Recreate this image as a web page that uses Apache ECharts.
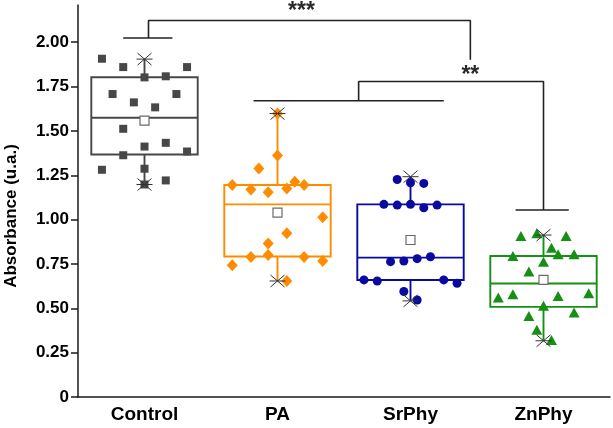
<!DOCTYPE html>
<html>
<head>
<meta charset="utf-8">
<title>Absorbance box plot</title>
<script src="https://cdn.jsdelivr.net/npm/echarts@6/dist/echarts.min.js"></script>
<style>
html, body { margin: 0; padding: 0; background: #fff; }
#main { width: 613px; height: 428px; }
</style>
</head>
<body>
<div id="main"></div>
<script>
const categories = ['Control', 'PA', 'SrPhy', 'ZnPhy'];
const yTicks = [0, 0.25, 0.5, 0.75, 1, 1.25, 1.5, 1.75, 2];

// box statistics
const q1 = [1.367, 0.792, 0.660, 0.508];
const median = [1.574, 1.086, 0.786, 0.640];
const q3 = [1.803, 1.195, 1.086, 0.795];
const minVal = [1.198, 0.654, 0.542, 0.317];
const maxVal = [1.905, 1.598, 1.242, 0.913];
const meanVal = [1.558, 1.039, 0.885, 0.660];

// individual samples, with their horizontal jitter in category units
const controlValues = [1.907, 1.860, 1.802, 1.808, 1.860, 1.708, 1.708, 1.661, 1.633, 1.512, 1.412, 1.433, 1.363, 1.384, 1.281, 1.287, 1.221, 1.198];
const controlJitter = [-0.32, -0.16, 0, 0.16, 0.32, -0.24, 0.24, -0.08, 0.08, -0.16, 0, 0.16, -0.16, 0.32, -0.32, 0, 0.16, 0];
const paValues = [1.598, 1.361, 1.288, 1.195, 1.170, 1.155, 1.176, 1.213, 1.195, 1.014, 0.923, 0.865, 0.789, 0.801, 0.789, 0.767, 0.743, 0.654];
const paJitter = [0, 0, -0.14, -0.34, -0.2, -0.07, 0.07, 0.13, 0.2, 0.34, 0.07, -0.07, -0.2, -0.07, 0.2, 0.34, -0.34, 0.07];
const srValues = [1.226, 1.208, 1.204, 1.086, 1.082, 1.086, 1.067, 1.082, 0.763, 0.767, 0.780, 0.791, 0.660, 0.654, 0.660, 0.641, 0.595, 0.547];
const srJitter = [-0.1, 0, 0.1, -0.2, -0.1, 0, 0.1, 0.2, -0.15, -0.05, 0.05, 0.15, -0.35, -0.25, 0.25, 0.35, -0.05, 0.05];
const znValues = [0.908, 0.923, 0.908, 0.842, 0.795, 0.805, 0.805, 0.763, 0.707, 0.561, 0.579, 0.570, 0.585, 0.514, 0.477, 0.457, 0.379, 0.322];
const znJitter = [-0.17, -0.05, 0.17, 0.06, -0.23, 0.11, 0.23, 0, -0.11, -0.34, -0.23, 0.11, 0.34, 0, 0.23, -0.11, -0.05, 0.06];

// significance brackets (x in category units, y in absorbance)
const bracketLines = [
  [[0.84, 2.024], [1.21, 2.024]],
  [[1.03, 2.024], [1.03, 2.123], [3.45, 2.123], [3.45, 1.902]],
  [[1.82, 1.670], [3.25, 1.670]],
  [[2.61, 1.670], [2.61, 1.779], [4.0, 1.779], [4.0, 1.054]],
  [[3.79, 1.054], [4.19, 1.054]]
];
const sigLabels = [
  ['***', 2.18, 2.17],
  ['**', 3.45, 1.812]
];

const colors = ['#474747', '#ff8c00', '#0a0aa0', '#159015'];
const symbols = ['rect', 'diamond', 'circle', 'triangle'];
const symbolSizes = [8, [11, 12], 9, [11, 10]];
const groupValues = [controlValues, paValues, srValues, znValues];
const groupJitter = [controlJitter, paJitter, srJitter, znJitter];
const font = "'Liberation Sans', Arial, Helvetica, sans-serif";

const boxData = categories.map((c, i) => [i + 1, q1[i], median[i], q3[i], minVal[i], maxVal[i]]);
const markData = categories.map((c, i) => [i + 1, meanVal[i], minVal[i], maxVal[i]]);

function renderBox (params, api) {
  const x = api.value(0);
  const half = api.size([0.8, 0])[0] / 2;
  const color = colors[params.dataIndex];
  const pLo = api.coord([x, api.value(1)]);
  const pMed = api.coord([x, api.value(2)]);
  const pHi = api.coord([x, api.value(3)]);
  const pMin = api.coord([x, api.value(4)]);
  const pMax = api.coord([x, api.value(5)]);
  const style = { stroke: color, lineWidth: 1.9, fill: null };
  return {
    type: 'group',
    children: [
      { type: 'rect', shape: { x: pHi[0] - half, y: pHi[1], width: half * 2, height: pLo[1] - pHi[1] }, style: style },
      { type: 'line', shape: { x1: pMed[0] - half, y1: pMed[1], x2: pMed[0] + half, y2: pMed[1] }, style: style },
      { type: 'line', shape: { x1: pHi[0], y1: pHi[1], x2: pMax[0], y2: pMax[1] }, style: style },
      { type: 'line', shape: { x1: pLo[0], y1: pLo[1], x2: pMin[0], y2: pMin[1] }, style: style }
    ]
  };
}

function star (p) {
  const s = { stroke: '#333', lineWidth: 1 };
  return [
    { type: 'line', shape: { x1: p[0] - 8, y1: p[1], x2: p[0] + 8, y2: p[1] }, style: s },
    { type: 'line', shape: { x1: p[0] - 7, y1: p[1] - 6, x2: p[0] + 7, y2: p[1] + 6 }, style: s },
    { type: 'line', shape: { x1: p[0] - 7, y1: p[1] + 6, x2: p[0] + 7, y2: p[1] - 6 }, style: s }
  ];
}

function renderMarks (params, api) {
  const x = api.value(0);
  const pMean = api.coord([x, api.value(1)]);
  const pMin = api.coord([x, api.value(2)]);
  const pMax = api.coord([x, api.value(3)]);
  return {
    type: 'group',
    children: star(pMin).concat(star(pMax), [
      { type: 'rect', shape: { x: pMean[0] - 4.5, y: pMean[1] - 4.5, width: 9, height: 9 }, style: { stroke: '#6b6b6b', lineWidth: 1.2, fill: '#fff' } }
    ])
  };
}

function renderLabel (params, api) {
  const p = api.coord([api.value(1), api.value(2)]);
  return {
    type: 'text',
    x: p[0],
    y: p[1],
    style: { text: sigLabels[params.dataIndex][0], font: 'bold 23px ' + font, fill: '#2a2a2a', align: 'center', verticalAlign: 'middle' }
  };
}

const series = [
  { type: 'custom', renderItem: renderBox, data: boxData, encode: { x: 0, y: [1, 2, 3, 4, 5] }, z: 2 }
];
categories.forEach((c, i) => {
  series.push({
    name: c,
    type: 'scatter',
    symbol: symbols[i],
    symbolSize: symbolSizes[i],
    itemStyle: { color: colors[i], opacity: 1 },
    data: groupValues[i].map((v, k) => [i + 1 + groupJitter[i][k], v]),
    z: 3
  });
});
series.push({ type: 'custom', renderItem: renderMarks, data: markData, encode: { x: 0, y: [1, 2, 3] }, z: 4 });
bracketLines.forEach(line => {
  series.push({
    type: 'line',
    data: line,
    symbol: 'none',
    lineStyle: { color: '#222', width: 1.6 },
    animation: false,
    z: 1
  });
});
series.push({ type: 'custom', renderItem: renderLabel, data: sigLabels.map((l, i) => [i, l[1], l[2]]), encode: { x: 1, y: 2 }, z: 5 });

const myChart = echarts.init(document.getElementById('main'))
const option = {
  backgroundColor: '#fff',
  animation: false,
  grid: { left: 78, right: 3, top: 5, bottom: 31 },
  xAxis: {
    type: 'value',
    min: 0.5,
    max: 4.5,
    splitLine: { show: false },
    axisTick: { show: false },
    axisLine: { lineStyle: { color: '#1a1a1a', width: 1.5 } },
    axisLabel: {
      customValues: [1, 2, 3, 4],
      formatter: v => categories[Math.round(v) - 1],
      color: '#000',
      fontSize: 19,
      fontWeight: 'bold',
      fontFamily: font,
      margin: 8
    }
  },
  yAxis: {
    type: 'value',
    min: 0,
    max: 2.21,
    splitLine: { show: false },
    axisLine: { show: true, lineStyle: { color: '#1a1a1a', width: 1.5 } },
    axisTick: { show: true, customValues: yTicks, length: 7, lineStyle: { color: '#1a1a1a', width: 1.5 } },
    axisLabel: {
      customValues: yTicks,
      formatter: v => v === 0 ? '0' : v.toFixed(2),
      color: '#000',
      fontSize: 17,
      fontWeight: 'bold',
      fontFamily: font,
      margin: 9
    }
  },
  graphic: [
    {
      type: 'text',
      x: 11,
      y: 216,
      rotation: Math.PI / 2,
      style: { text: 'Absorbance (u.a.)', font: 'bold 17px ' + font, fill: '#000', align: 'center', verticalAlign: 'middle' }
    }
  ],
  series: series
}
option && myChart.setOption(option)
</script>
</body>
</html>
